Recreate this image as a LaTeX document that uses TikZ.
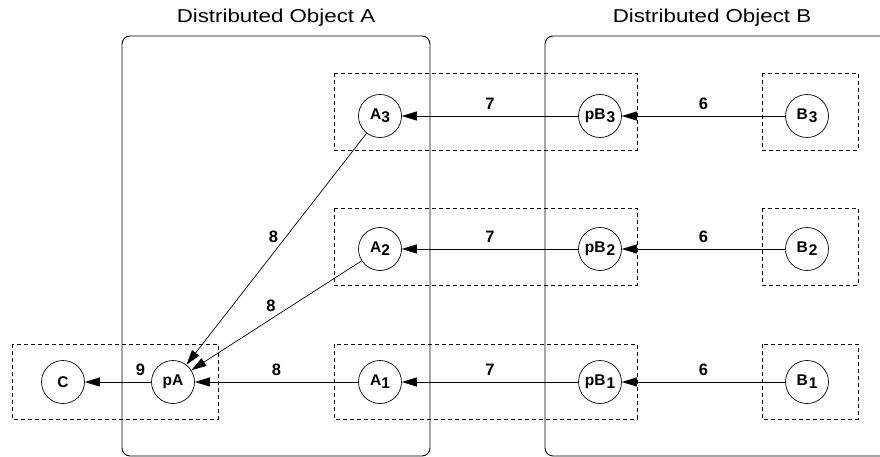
\documentclass[tikz,border=0pt]{standalone}
\usepackage{fontspec}
\setmainfont{Liberation Sans}
\newfontfamily\titlefont[FakeStretch=1.2]{Liberation Sans}
\usetikzlibrary{arrows.meta}
\usetikzlibrary{positioning}

\newcommand{\lowsub}[1]{\raisebox{-0.4ex}{#1}}

\begin{document}
\begin{tikzpicture}[x=1pt, y=-1pt,
					obj box/.style={draw, line width=0.9pt, rounded corners=8pt},
					grp box/.style={draw, line width=0.7pt, dash pattern=on 4pt off 3pt},
					proc/.style={draw, circle, line width=0.7pt, minimum size=43pt, inner sep=0pt, font=\fontsize{15.5}{17}\selectfont\bfseries},
					msg/.style={-{Triangle[length=15pt,width=9pt]}, line width=0.7pt},
					num label/.style={font=\fontsize{16.5}{18}\selectfont\bfseries, inner sep=1pt},
					obj title/.style={font=\titlefont\fontsize{18.6}{21}\selectfont},
				]
					\useasboundingbox (0,0) rectangle (880,457);
					
					% distributed objects
					\draw[obj box] (122,36) rectangle (430,456);
					\draw[obj box] (545,36) rectangle (910,456);
					\node[obj title] (titleA) at (276,18) {Distributed Object A};
					\node[obj title] (titleB) at (712,18) {Distributed Object B};
					
					% groups
					\draw[grp box] (334,73) rectangle (637,150);
					\draw[grp box] (762,73) rectangle (858,150);
					\draw[grp box] (334,208) rectangle (637,285);
					\draw[grp box] (762,208) rectangle (858,285);
					\draw[grp box] (12,344) rectangle (218,419);
					\draw[grp box] (334,344) rectangle (637,419);
					\draw[grp box] (762,344) rectangle (858,419);
					
					% processes
					\node[proc] (A3) at (380,116) {A\lowsub{3}};
					\node[proc] (pB3) at (600,116) {pB\kern1pt\lowsub{3}};
					\node[proc] (B3) at (807,116) {B\kern1pt\lowsub{3}};
					\node[proc] (A2) at (380,249) {A\lowsub{2}};
					\node[proc] (pB2) at (600,249) {pB\kern1pt\lowsub{2}};
					\node[proc] (B2) at (807,249) {B\kern1pt\lowsub{2}};
					\node[proc] (C) at (63,382) {C};
					\node[proc] (pA) at (173,382) {pA};
					\node[proc] (A1) at (380,382) {A\lowsub{1}};
					\node[proc] (pB1) at (600,382) {pB\kern1pt\lowsub{1}};
					\node[proc] (B1) at (807,382) {B\kern1pt\lowsub{1}};
					
					% messages
					\draw[msg] (B3) -- node[num label, above=5pt] {6} (pB3);
					\draw[msg] (pB3) -- node[num label, above=5pt] {7} (A3);
					\draw[msg] (B2) -- node[num label, above=5pt] {6} (pB2);
					\draw[msg] (pB2) -- node[num label, above=5pt] {7} (A2);
					\draw[msg] (B1) -- node[num label, above=5pt] {6} (pB1);
					\draw[msg] (pB1) -- node[num label, above=5pt] {7} (A1);
					\draw[msg] (A1) -- node[num label, above=5pt] {8} (pA);
					\draw[msg] (A2) -- node[num label, pos=0.49, above left=2pt] {8} (pA);
					\draw[msg] (A3) -- node[num label, pos=0.48, above left=1pt] {8} (pA);
					\draw[msg] (pA) -- node[num label, pos=0.16, above=5pt] {9} (C);
				\end{tikzpicture}
\end{document}
